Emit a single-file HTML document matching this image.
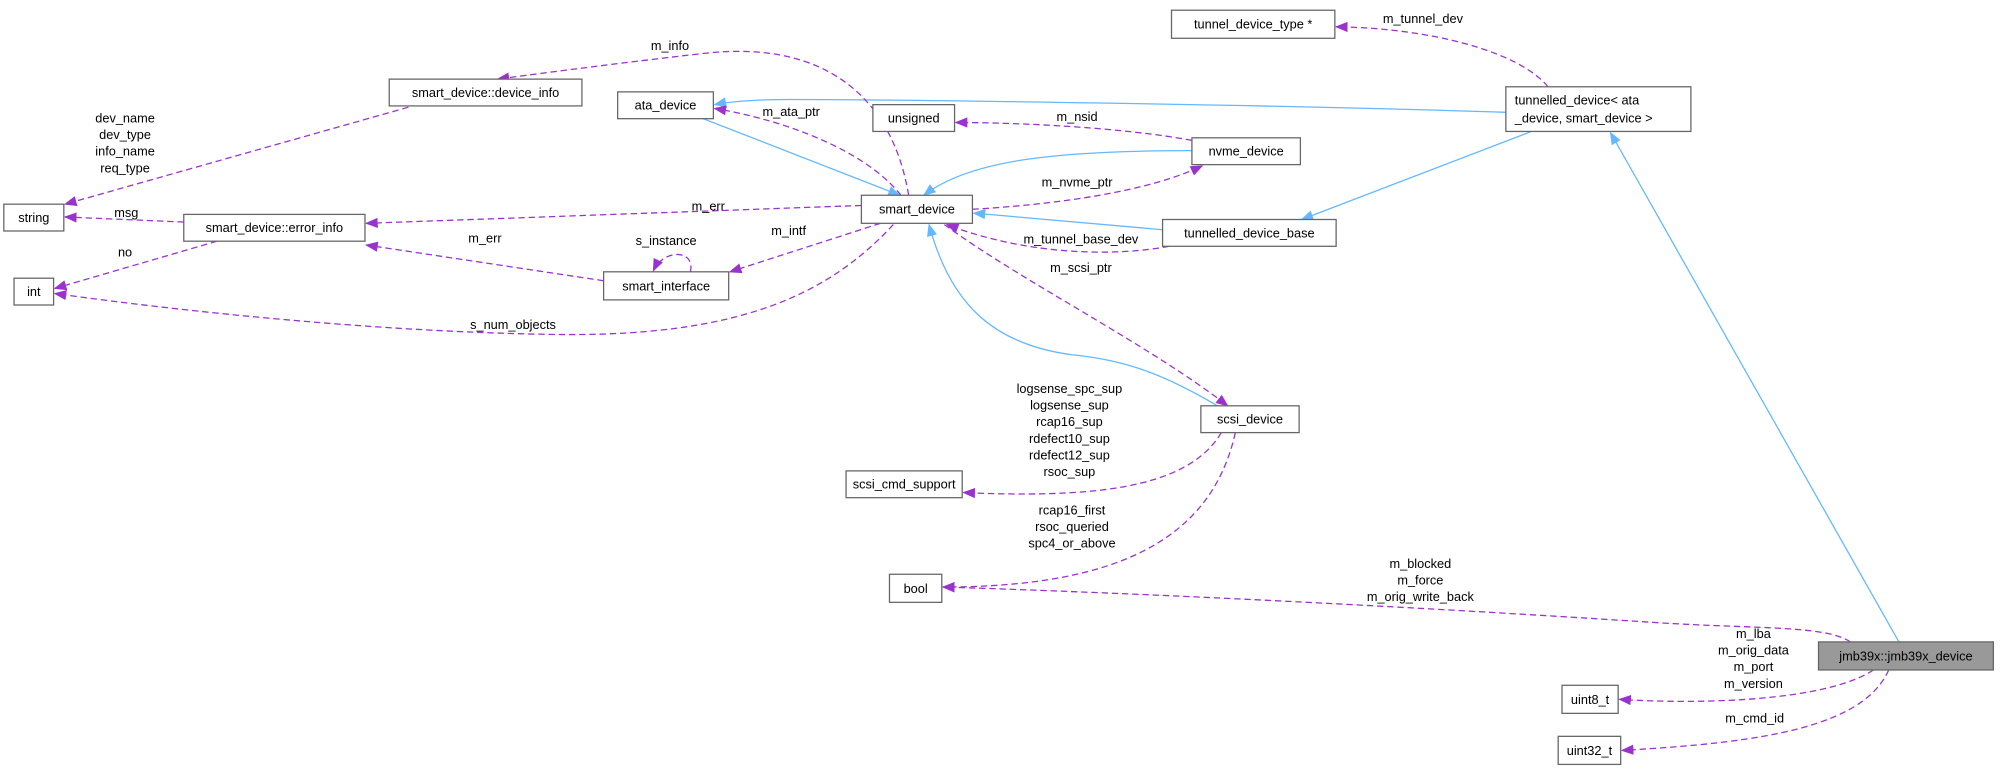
<!DOCTYPE html>
<html><head><meta charset="utf-8"><style>
html,body{margin:0;padding:0;background:#fff;}
svg{display:block;}
text{font-family:"Liberation Sans",sans-serif;font-size:10px;fill:#000;}
.n{fill:#fff;stroke:#666;stroke-width:1;}
.b{fill:none;stroke:#63b8ff;stroke-width:1;}
.p{fill:none;stroke:#9a32cd;stroke-width:1;stroke-dasharray:5,3;}
</style></head><body>
<svg width="2001" height="769" viewBox="0 0 1568 602.6" preserveAspectRatio="none" xmlns="http://www.w3.org/2000/svg">
<defs>
<marker id="ab" markerWidth="10" markerHeight="8" refX="9" refY="4" orient="auto" markerUnits="userSpaceOnUse"><path d="M0,0 L10,4 L0,8 z" fill="#63b8ff"/></marker>
<marker id="ap" markerWidth="10" markerHeight="8" refX="9" refY="4" orient="auto" markerUnits="userSpaceOnUse"><path d="M0,0 L10,4 L0,8 z" fill="#9a32cd"/></marker>
</defs>

<!-- blue edges -->
<path class="b" marker-end="url(#ab)" d="M551,93 L705,153"/>
<path class="b" marker-end="url(#ab)" d="M934,118 C830,118 760,125 724,153"/>
<path class="b" marker-end="url(#ab)" d="M911,180 L763,167"/>
<path class="b" marker-end="url(#ab)" d="M954,318 C910,292 880,282 840,278 C780,270 745,240 728,176"/>
<path class="b" marker-end="url(#ab)" d="M1180,88 C1000,82 700,78 620,78 C590,78 570,80 560,82"/>
<path class="b" marker-end="url(#ab)" d="M1200,103 L1020,172"/>
<path class="b" marker-end="url(#ab)" d="M1488,503 L1262,104"/>

<!-- purple edges -->
<path class="p" marker-end="url(#ap)" d="M712,153 C700,80 650,30 550,42 C480,50 420,58 390,62"/>
<path class="p" marker-end="url(#ap)" d="M706,153 C680,120 620,95 560,85"/>
<path class="p" marker-end="url(#ap)" d="M934,110 C880,100 800,96 749,96"/>
<path class="p" marker-end="url(#ap)" d="M762,164 C830,160 900,150 942,130"/>
<path class="p" marker-end="url(#ap)" d="M675,161 L287,175"/>
<path class="p" marker-end="url(#ap)" d="M144,174 L51,170"/>
<path class="p" marker-end="url(#ap)" d="M320,84 L51,160"/>
<path class="p" marker-end="url(#ap)" d="M170,189 L43,226"/>
<path class="p" marker-end="url(#ap)" d="M473,220 L287,192"/>
<path class="p" marker-end="url(#ap)" d="M541,213 C545,195 520,195 512,212"/>
<path class="p" marker-end="url(#ap)" d="M690,175 L572,213"/>
<path class="p" marker-end="url(#ap)" d="M700,176 C650,230 580,265 430,262 C300,260 150,245 43,230"/>
<path class="p" marker-end="url(#ap)" d="M916,193 C880,200 810,202 742,176"/>
<path class="p" marker-end="url(#ap)" d="M740,176 C800,220 900,270 962,318"/>
<path class="p" marker-end="url(#ap)" d="M957,339 C930,385 850,390 755,386"/>
<path class="p" marker-end="url(#ap)" d="M968,339 C950,420 880,460 739,460"/>
<path class="p" marker-end="url(#ap)" d="M1450,503 C1430,490 1380,493 1300,488 C1100,475 900,465 739,460"/>
<path class="p" marker-end="url(#ap)" d="M1468,525 C1430,550 1330,552 1269,548"/>
<path class="p" marker-end="url(#ap)" d="M1480,525 C1460,570 1380,582 1271,588"/>
<path class="p" marker-end="url(#ap)" d="M1213,68 C1190,40 1120,22 1047,21"/>

<!-- nodes -->
<rect class="n" x="918" y="8" width="128" height="22"/><text x="982" y="22.5" text-anchor="middle">tunnel_device_type *</text>
<rect class="n" x="305" y="62" width="151" height="21"/><text x="380.5" y="76" text-anchor="middle">smart_device::device_info</text>
<rect class="n" x="484" y="72" width="75" height="21"/><text x="521.5" y="86" text-anchor="middle">ata_device</text>
<rect class="n" x="684" y="82" width="64" height="21"/><text x="716" y="96" text-anchor="middle">unsigned</text>
<rect class="n" x="1180" y="68" width="145" height="35"/><text x="1187" y="82">tunnelled_device&lt; ata</text><text x="1187" y="96">_device, smart_device &gt;</text>
<rect class="n" x="934" y="108" width="85" height="21"/><text x="976.5" y="122" text-anchor="middle">nvme_device</text>
<rect class="n" x="3" y="160" width="47" height="21"/><text x="26.5" y="174" text-anchor="middle">string</text>
<rect class="n" x="144" y="168" width="142" height="21"/><text x="215" y="182" text-anchor="middle">smart_device::error_info</text>
<rect class="n" x="675" y="153" width="87" height="22"/><text x="718.5" y="167.5" text-anchor="middle">smart_device</text>
<rect class="n" x="911" y="172" width="136" height="21"/><text x="979" y="186" text-anchor="middle">tunnelled_device_base</text>
<rect class="n" x="11" y="218" width="31" height="21"/><text x="26.5" y="232" text-anchor="middle">int</text>
<rect class="n" x="473" y="213" width="98" height="22"/><text x="522" y="227.5" text-anchor="middle">smart_interface</text>
<rect class="n" x="941" y="318" width="77" height="21"/><text x="979.5" y="332" text-anchor="middle">scsi_device</text>
<rect class="n" x="663" y="369" width="91" height="21"/><text x="708.5" y="383" text-anchor="middle">scsi_cmd_support</text>
<rect class="n" x="697" y="450" width="41" height="22"/><text x="717.5" y="464.5" text-anchor="middle">bool</text>
<rect x="1425" y="503" width="137" height="22" fill="#999" stroke="#666"/><text x="1493.5" y="517.5" text-anchor="middle">jmb39x::jmb39x_device</text>
<rect class="n" x="1224" y="537" width="44" height="22"/><text x="1246" y="551.5" text-anchor="middle">uint8_t</text>
<rect class="n" x="1221" y="577" width="49" height="22"/><text x="1245.5" y="591.5" text-anchor="middle">uint32_t</text>

<!-- labels -->
<g text-anchor="middle">
<text x="525" y="39">m_info</text>
<text x="620" y="91">m_ata_ptr</text>
<text x="844" y="95">m_nsid</text>
<text x="844" y="146">m_nvme_ptr</text>
<text x="1115" y="18">m_tunnel_dev</text>
<text x="98" y="96">dev_name</text>
<text x="98" y="109">dev_type</text>
<text x="98" y="122">info_name</text>
<text x="98" y="135">req_type</text>
<text x="99" y="170">msg</text>
<text x="555" y="165">m_err</text>
<text x="98" y="201">no</text>
<text x="380" y="190">m_err</text>
<text x="522" y="192">s_instance</text>
<text x="618" y="184">m_intf</text>
<text x="847" y="191">m_tunnel_base_dev</text>
<text x="847" y="213">m_scsi_ptr</text>
<text x="402" y="258">s_num_objects</text>
<text x="838" y="308">logsense_spc_sup</text>
<text x="838" y="321">logsense_sup</text>
<text x="838" y="334">rcap16_sup</text>
<text x="838" y="347">rdefect10_sup</text>
<text x="838" y="360">rdefect12_sup</text>
<text x="838" y="373">rsoc_sup</text>
<text x="840" y="403">rcap16_first</text>
<text x="840" y="416">rsoc_queried</text>
<text x="840" y="429">spc4_or_above</text>
<text x="1113" y="445">m_blocked</text>
<text x="1113" y="458">m_force</text>
<text x="1113" y="471">m_orig_write_back</text>
<text x="1374" y="500">m_lba</text>
<text x="1374" y="513">m_orig_data</text>
<text x="1374" y="526">m_port</text>
<text x="1374" y="539">m_version</text>
<text x="1375" y="566">m_cmd_id</text>
</g>
</svg>
</body></html>
